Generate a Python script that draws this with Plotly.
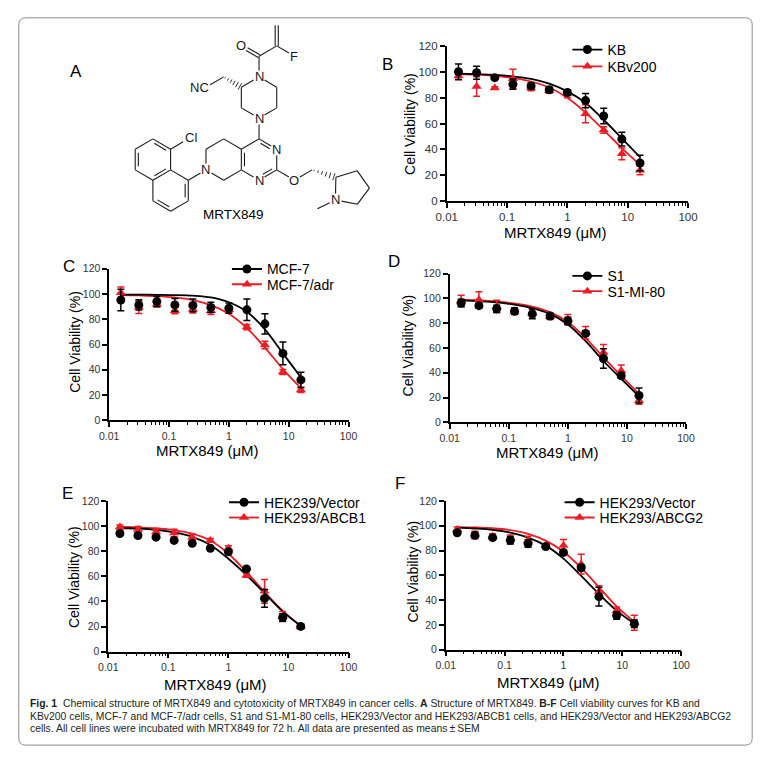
import math
import plotly.graph_objects as go

# ---------------- data ----------------
conc = [0.015625, 0.03125, 0.0625, 0.125, 0.25, 0.5, 1, 2, 4, 8, 16]

# B
kb_mean = [100.3, 99.5, 95.7, 90.6, 89.3, 86.3, 84.2, 77.9, 65.9, 48.0, 29.4]
kb_sem = [6, 5, 1.5, 4, 2, 2, 2, 5.5, 6, 5.3, 6]
kbv_mean = [97, 88.8, 87.6, 94.8, 87.6, 85.5, 83, 67.6, 55, 36.5, 23.7]
kbv_sem = [3, 7.5, 1, 7.5, 2, 2, 3, 7, 2.5, 4.5, 3.5]
kb_fit = [98.8, 98.4, 97.8, 96.7, 94.7, 91, 85, 76, 63, 48.5, 34]
kbv_fit = [98.5, 98, 97, 95.5, 92.7, 88, 80, 68.5, 55, 41, 28]

# C
mcf_mean = [95.3, 91.4, 94, 91.4, 91, 89.4, 88.8, 87.5, 76.4, 53, 32]
mcf_sem = [8.5, 4, 4, 5, 5, 4, 4, 8.5, 8, 9, 6]
adr_mean = [101, 89.5, 92, 86.8, 88, 86.8, 87.5, 73.8, 59.7, 38.2, 24]
adr_sem = [4.5, 5, 2, 2.5, 3, 3, 2, 2, 3, 2, 2]
mcf_fit = [99.5, 99.5, 99.4, 99.2, 98.7, 97.3, 93.5, 86, 72, 53, 34]
adr_fit = [99.2, 98.9, 98.4, 97.3, 95.2, 91.2, 84.3, 73, 57.6, 40.6, 25.5]

# D
s1_mean = [96.3, 94.2, 91.6, 89.7, 87.6, 85.8, 81.8, 71.8, 51.5, 37.5, 21.6]
s1_sem = [3, 2, 3, 2.5, 4, 2, 3, 2, 7.8, 2, 6]
mi_mean = [98, 99, 93.6, 89, 88, 85.5, 83, 72.3, 56.4, 41.7, 17.5]
mi_sem = [4.5, 6.5, 5, 2, 3, 2.5, 4, 5, 6.4, 4.5, 3]
s1_fit = [98.5, 97.8, 96.8, 95, 92.2, 87.5, 79, 65.5, 49.5, 35, 21]
mi_fit = [99, 98.5, 97.6, 96, 93.5, 89, 81, 68, 52.5, 37.5, 23]

# E
vec_e_mean = [94.1, 92.5, 91.2, 88.6, 86.3, 82.4, 79.5, 65.9, 42.4, 27.2, 20.1]
vec_e_sem = [1, 1, 1, 1, 1, 1, 1, 1, 7, 3, 1]
abcb1_mean = [99.3, 97.3, 95.4, 94.6, 91.2, 88.6, 82.4, 60.7, 48, 28, 19.6]
abcb1_sem = [1.5, 2.5, 2, 3, 2.5, 1.5, 2, 1.5, 9.5, 4, 1]
vec_e_fit = [98.5, 98, 97, 95, 91.5, 85, 74, 61, 46.5, 32, 20.5]
abcb1_fit = [99.5, 99, 98.3, 96.8, 94, 88.5, 78, 63.5, 47.5, 32.5, 20.5]

# F
vec_f_mean = [94.4, 92.3, 90.4, 88.3, 85.6, 83.3, 78.5, 66.1, 42.8, 27.5, 20.9]
vec_f_sem = [1, 2, 1, 3, 3, 1, 1, 2, 7.5, 3, 3]
abcg2_mean = [97, 92.5, 91.5, 89.5, 88, 84, 84, 69, 47, 31.5, 21.7]
abcg2_sem = [2, 3, 2, 3, 3.5, 1, 5, 8, 4.5, 3, 6]
vec_f_fit = [98.5, 97.8, 96.7, 94.5, 90.5, 84, 73.5, 59.5, 45, 31.5, 21]
abcg2_fit = [99, 98.7, 98, 96.5, 93.5, 88, 79, 66, 50.5, 35, 22.5]

x_tick_vals = [0.01, 0.1, 1, 10, 100]
x_tick_text = ["0.01", "0.1", "1", "10", "100"]
y_tick_vals = [0, 20, 40, 60, 80, 100, 120]

# ---------------- layout helpers ----------------
W, H = 769, 757
FONT = "Liberation Sans, Arial, sans-serif"
CAP_FONT = "Liberation Sans, Arial, sans-serif"
RED = "#ee1c25"


def px(x):
    return x / W


def py(y):
    return 1 - y / H


fig = go.Figure()
shapes = []
annotations = []

panels = [
    dict(letter="B", n=1, xr=(448, 696), yr=(41, 198),
         black=("KB", kb_mean, kb_sem, kb_fit), red=("KBv200", kbv_mean, kbv_sem, kbv_fit),
         leg=(613, 44, 61), xt=(560, 230), yt=(410, 120), lab=(387, 59), tick=11.5),
    dict(letter="C", n=2, xr=(101, 347), yr=(267, 421),
         black=("MCF-7", mcf_mean, mcf_sem, mcf_fit), red=("MCF-7/adr", adr_mean, adr_sem, adr_fit),
         leg=(263, 267, 282.5), xt=(202, 452), yt=(65, 341), lab=(60, 265), tick=10.5),
    dict(letter="D", n=3, xr=(451, 694), yr=(272, 423),
         black=("S1", s1_mean, s1_sem, s1_fit), red=("S1-MI-80", mi_mean, mi_sem, mi_fit),
         leg=(613, 274, 289.5), xt=(552, 454), yt=(408, 345), lab=(394, 260), tick=10.5),
    dict(letter="E", n=4, xr=(100, 347), yr=(503, 656),
         black=("HEK239/Vector", vec_e_mean, vec_e_sem, vec_e_fit),
         red=("HEK293/ABCB1", abcb1_mean, abcb1_sem, abcb1_fit),
         leg=(260, 504, 519.5), xt=(210, 689), yt=(65, 580), lab=(58, 495), tick=10.5),
    dict(letter="F", n=5, xr=(447, 689), yr=(503, 654),
         black=("HEK293/Vector", vec_f_mean, vec_f_sem, vec_f_fit),
         red=("HEK293/ABCG2", abcg2_mean, abcg2_sem, abcg2_fit),
         leg=(605, 504, 519.5), xt=(553, 687), yt=(413, 575), lab=(400, 485), tick=10.5),
]

minor_vals = [k * 10 ** e for e in range(-2, 2) for k in range(2, 10)]
layout_axes = {}
legends = {}
leg_count = [0]


def new_legend(text_x, center_y):
    leg_count[0] += 1
    k = leg_count[0]
    name = "legend" if k == 1 else f"legend{k}"
    legends[name] = dict(x=px(text_x - 41), y=py(center_y - 15.6), xanchor="left", yanchor="top",
                         bgcolor="rgba(0,0,0,0)", font=dict(size=14, family=FONT, color="black"),
                         itemwidth=30, tracegroupgap=0)
    return name


for p in panels:
    n = p["n"]
    xa = "x" if n == 1 else f"x{n}"
    ya = "y" if n == 1 else f"y{n}"
    xkey = "xaxis" if n == 1 else f"xaxis{n}"
    ykey = "yaxis" if n == 1 else f"yaxis{n}"
    layout_axes[xkey] = dict(
        domain=[px(p["xr"][0]), px(p["xr"][1])], anchor=ya, type="log", range=[-2, 2],
        showline=True, linecolor="black", linewidth=1.6, ticks="outside", ticklen=5,
        tickwidth=1.5, tickcolor="black", tickvals=x_tick_vals, ticktext=x_tick_text,
        tickfont=dict(size=p["tick"], color="#333", family=FONT), showgrid=False, zeroline=False,
        minor=dict(tickvals=minor_vals, ticks="outside", ticklen=3, tickwidth=1.2,
                   tickcolor="black", showgrid=False),
    )
    layout_axes[ykey] = dict(
        domain=[py(p["yr"][1]), py(p["yr"][0])], anchor=xa, range=[0, 120],
        showline=True, linecolor="black", linewidth=1.6, ticks="outside", ticklen=5,
        tickwidth=1.5, tickcolor="black", tickvals=y_tick_vals,
        tickfont=dict(size=p["tick"], color="#333", family=FONT), showgrid=False, zeroline=False,
    )
    bname, bmean, bsem, bfit = p["black"]
    rname, rmean, rsem, rfit = p["red"]
    fig.add_trace(go.Scatter(x=conc, y=rfit, mode="lines", line=dict(color=RED, width=1.8, shape="spline"),
                             xaxis=xa, yaxis=ya, showlegend=False, hoverinfo="skip"))
    fig.add_trace(go.Scatter(x=conc, y=bfit, mode="lines", line=dict(color="black", width=1.8, shape="spline"),
                             xaxis=xa, yaxis=ya, showlegend=False, hoverinfo="skip"))
    fig.add_trace(go.Scatter(x=conc, y=rmean, mode="markers",
                             marker=dict(symbol="triangle-up", size=9, color=RED),
                             error_y=dict(type="data", array=rsem, color=RED, thickness=1.5, width=3.5),
                             xaxis=xa, yaxis=ya, showlegend=False, cliponaxis=False))
    fig.add_trace(go.Scatter(x=conc, y=bmean, mode="markers",
                             marker=dict(symbol="circle", size=9, color="black"),
                             error_y=dict(type="data", array=bsem, color="black", thickness=1.5, width=3.5),
                             xaxis=xa, yaxis=ya, showlegend=False, cliponaxis=False))
    tx, ty1, ty2 = p["leg"]
    lg1 = new_legend(tx, ty1)
    fig.add_trace(go.Scatter(x=[None], y=[None], mode="lines+markers", name=bname,
                             line=dict(color="black", width=1.8), marker=dict(symbol="circle", size=9, color="black"),
                             xaxis=xa, yaxis=ya, legend=lg1))
    lg2 = new_legend(tx, ty2)
    fig.add_trace(go.Scatter(x=[None], y=[None], mode="lines+markers", name=rname,
                             line=dict(color=RED, width=1.8), marker=dict(symbol="triangle-up", size=9, color=RED),
                             xaxis=xa, yaxis=ya, legend=lg2))
    annotations.append(dict(x=px(p["xt"][0]), y=py(p["xt"][1]), xref="paper", yref="paper",
                            text="MRTX849 (μM)", showarrow=False, xanchor="center", yanchor="middle",
                            font=dict(size=15, family=FONT, color="black")))
    annotations.append(dict(x=px(p["yt"][0]), y=py(p["yt"][1]), xref="paper", yref="paper",
                            text="Cell Viability (%)", showarrow=False, textangle=-90,
                            xanchor="center", yanchor="middle",
                            font=dict(size=14, family=FONT, color="black")))
    annotations.append(dict(x=px(p["lab"][0]), y=py(p["lab"][1]), xref="paper", yref="paper",
                            text=p["letter"], showarrow=False, xanchor="center", yanchor="middle",
                            font=dict(size=17, family=FONT, color="black")))

annotations.append(dict(x=px(67), y=py(67), xref="paper", yref="paper", text="A", showarrow=False,
                        xanchor="center", yanchor="middle", font=dict(size=17, family=FONT, color="black")))

# ---------------- chemical structure (panel A illustration) ----------------
LW = 1.1
b = 21.0
dx, dy = b * math.cos(math.pi / 6), b / 2


def add(pt, v):
    return (pt[0] + v[0], pt[1] + v[1])


UP, DOWN = (0, -b), (0, b)
UR, UL, DR, DL = (dx, -dy), (-dx, -dy), (dx, dy), (-dx, dy)


def seg(a, c, sa=0.0, sc=0.0, off=0.0):
    ax, ay = a
    cx, cy = c
    L = math.hypot(cx - ax, cy - ay)
    ux, uy = (cx - ax) / L, (cy - ay) / L
    nx, ny = -uy, ux
    x0, y0 = ax + ux * sa + nx * off, ay + uy * sa + ny * off
    x1, y1 = cx - ux * sc + nx * off, cy - uy * sc + ny * off
    shapes.append(dict(type="line", xref="paper", yref="paper", x0=px(x0), y0=py(y0), x1=px(x1), y1=py(y1),
                       line=dict(color="#1a1a1a", width=LW)))


def inner(a, c, center, sa=0.0, sc=0.0):
    ax, ay = a
    cx, cy = c
    mx, my = (ax + cx) / 2, (ay + cy) / 2
    L = math.hypot(cx - ax, cy - ay)
    nx, ny = -(cy - ay) / L, (cx - ax) / L
    if (center[0] - mx) * nx + (center[1] - my) * ny < 0:
        nx, ny = -nx, -ny
    off = 3.2
    ux, uy = (cx - ax) / L, (cy - ay) / L
    s0 = max(sa, 0.17 * L)
    s1 = max(sc, 0.17 * L)
    shapes.append(dict(type="line", xref="paper", yref="paper",
                       x0=px(ax + ux * s0 + nx * off), y0=py(ay + uy * s0 + ny * off),
                       x1=px(cx - ux * s1 + nx * off), y1=py(cy - uy * s1 + ny * off),
                       line=dict(color="#1a1a1a", width=LW)))


def hashed(a, c, n=6, wmax=3.6):
    ax, ay = a
    cx, cy = c
    L = math.hypot(cx - ax, cy - ay)
    ux, uy = (cx - ax) / L, (cy - ay) / L
    nx, ny = -uy, ux
    for i in range(n):
        t = (i + 0.5) / n
        hw = 0.4 + wmax * t
        mx, my = ax + ux * L * t, ay + uy * L * t
        shapes.append(dict(type="line", xref="paper", yref="paper",
                           x0=px(mx - nx * hw), y0=py(my - ny * hw), x1=px(mx + nx * hw), y1=py(my + ny * hw),
                           line=dict(color="#1a1a1a", width=0.9)))


def atom(pt, text, size=13, xanchor="center"):
    annotations.append(dict(x=px(pt[0]), y=py(pt[1]), xref="paper", yref="paper", text=text,
                            showarrow=False, xanchor=xanchor, yanchor="middle",
                            font=dict(size=size, family=FONT, color="#1a1a1a")))


S = 6.5

c_pyr = (255.0, 156.0)
C4 = add(c_pyr, UP)
N3 = add(c_pyr, UR)
C2 = add(c_pyr, DR)
N1 = add(c_pyr, DOWN)
C8a = add(c_pyr, DL)
C4a = add(c_pyr, UL)
seg(C4, N3, 0, S); inner(C4, N3, c_pyr, 0, S)
seg(N3, C2, S, 0)
seg(C2, N1, 0, S); inner(C2, N1, c_pyr, 0, S)
seg(N1, C8a, S, 0)
seg(C8a, C4a); inner(C8a, C4a, c_pyr)
seg(C4a, C4)
atom(N3, "N"); atom(N1, "N")

N4 = add(C4, UP)
seg(C4, N4, 0, S)
P1 = add(N4, UR)
P2 = add(P1, UP)
N1p = add(P2, UL)
Cst = add(N1p, DL)
P5 = add(Cst, DOWN)
seg(N4, P1, S, 0); seg(P1, P2); seg(P2, N1p, 0, S); seg(N1p, Cst, S, 0); seg(Cst, P5); seg(P5, N4, 0, S)
atom(N4, "N"); atom(N1p, "N")

Cco = add(N1p, UP)
seg(N1p, Cco, S, 0)
Oco = add(Cco, UL)
seg(Cco, Oco, 0, S, off=1.6); seg(Cco, Oco, 0, S, off=-1.6)
atom(Oco, "O")
Ca = add(Cco, UR)
seg(Cco, Ca)
Fa = add(Ca, DR)
seg(Ca, Fa, 0, S)
atom(Fa, "F")
CH2v = add(Ca, UP)
seg(Ca, CH2v, off=1.6); seg(Ca, CH2v, off=-1.6)

CH2n = add(Cst, UL)
hashed(CH2n, Cst)
Cn = add(CH2n, DL)
seg(CH2n, Cn, 0, 5)
atom((Cn[0] + 5.5, Cn[1]), "NC", xanchor="right")

C5 = add(C4a, UL)
C6 = add(C5, DL)
N7 = add(C6, DOWN)
C8 = add(N7, DR)
seg(C4a, C5); seg(C5, C6); seg(C6, N7, 0, S); seg(N7, C8, S, 0); seg(C8, C8a)
atom(N7, "N")

C1 = add(N7, DL)
seg(N7, C1, S, 0)
c_lo = (C1[0] - dx, C1[1] + dy)
T, URv, LRv, Bv, LLv, ULv = [add(c_lo, v) for v in (UP, UR, DR, DOWN, DL, UL)]
seg(T, URv); seg(URv, LRv); inner(URv, LRv, c_lo)
seg(LRv, Bv); seg(Bv, LLv); inner(Bv, LLv, c_lo)
seg(LLv, ULv); seg(ULv, T)
c_up = (c_lo[0] - dx, c_lo[1] - 3 * dy)
uT, uUR, uLR, uB, uLL, uUL = [add(c_up, v) for v in (UP, UR, DR, DOWN, DL, UL)]
inner(uLR, uB, c_up)
seg(uT, uUR); inner(uT, uUR, c_up)
seg(uUR, uLR)
seg(uB, uLL)
seg(uLL, uUL); inner(uLL, uUL, c_up)
seg(uUL, uT)
Clp = add(uUR, (dx * 0.95, -dy * 0.95))
seg(uUR, Clp, 0, 5)
atom((Clp[0] + 4, Clp[1] - 1.5), "Cl")

Oe = add(C2, DR)
seg(C2, Oe, 0, S)
atom(Oe, "O")
CH2o = add(Oe, UR)
seg(Oe, CH2o, S, 0)
Cp = (334.0, 174.0)
hashed(CH2o, Cp)
Cq2 = (356.0, 167.5)
Cq3 = (368.5, 185.0)
Cq4 = (356.0, 201.5)
Np = (333.5, 197.0)
Me = (315.0, 206.0)
seg(Cp, Cq2); seg(Cq2, Cq3); seg(Cq3, Cq4); seg(Cq4, Np, 0, S); seg(Np, Cp, S, 0); seg(Np, Me, S, 0)
atom(Np, "N")

annotations.append(dict(x=px(229), y=py(212), xref="paper", yref="paper", text="MRTX849", showarrow=False,
                        xanchor="center", yanchor="middle", font=dict(size=13.5, family=FONT, color="black")))

# ---------------- caption ----------------
cap_lines = [
    "<b>Fig. 1</b>  Chemical structure of MRTX849 and cytotoxicity of MRTX849 in cancer cells. <b>A</b> Structure of MRTX849. <b>B-F</b> Cell viability curves for KB and",
    "KBv200 cells, MCF-7 and MCF-7/adr cells, S1 and S1-M1-80 cells, HEK293/Vector and HEK293/ABCB1 cells, and HEK293/Vector and HEK293/ABCG2",
    "cells. All cell lines were incubated with MRTX849 for 72 h. All data are presented as means\u2009\u00b1\u2009SEM",
]
for i, t in enumerate(cap_lines):
    annotations.append(dict(x=px(17), y=py(709 + 12.6 * i), xref="paper", yref="paper", text=t,
                            showarrow=False, xanchor="left", yanchor="middle",
                            font=dict(size=10.4, family=CAP_FONT, color="#231f20")))

# ---------------- rounded border ----------------
x0, y0, x1, y1, r = 8, 12, 762, 751, 7
path = (f"M {px(x0 + r)},{py(y0)} L {px(x1 - r)},{py(y0)} Q {px(x1)},{py(y0)} {px(x1)},{py(y0 + r)} "
        f"L {px(x1)},{py(y1 - r)} Q {px(x1)},{py(y1)} {px(x1 - r)},{py(y1)} "
        f"L {px(x0 + r)},{py(y1)} Q {px(x0)},{py(y1)} {px(x0)},{py(y1 - r)} "
        f"L {px(x0)},{py(y0 + r)} Q {px(x0)},{py(y0)} {px(x0 + r)},{py(y0)} Z")
shapes.append(dict(type="path", xref="paper", yref="paper", path=path,
                   line=dict(color="#8c8c8c", width=1)))

fig.update_layout(
    width=W, height=H, margin=dict(l=0, r=0, t=0, b=0),
    paper_bgcolor="white", plot_bgcolor="white",
    font=dict(family=FONT, color="black"),
    shapes=shapes, annotations=annotations, showlegend=True,
    **layout_axes, **legends,
)

fig.write_html("out.html", config={"displayModeBar": False},
               post_script="document.body.style.margin='0px';document.body.style.overflow='hidden';")
